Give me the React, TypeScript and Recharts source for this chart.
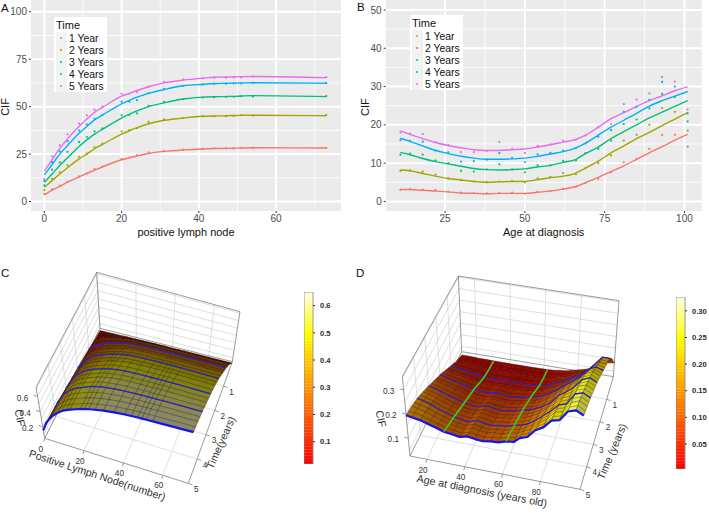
import { CartesianGrid, ComposedChart, Line, ReferenceArea, Scatter, XAxis, YAxis } from "recharts";

const FONT = "'Liberation Sans', Arial, sans-serif";
const yearNames = ["1 Year", "2 Years", "3 Years", "4 Years", "5 Years"];
const yearColors = ["#F8766D", "#A3A500", "#00BF7D", "#00B0F6", "#E76BF3"];

// Panel A, CIF (%) against positive lymph nodes
const nodes = [0, 2, 4, 6, 9, 11, 13, 15, 20, 22, 24, 27, 31, 36, 41, 44, 47, 49, 51, 54, 73];
const nodeLine1 = [3.5, 6, 8, 10.2, 13, 14.8, 16.5, 18.2, 22, 23, 24, 25.3, 26.4, 27.2, 27.7, 27.9, 28, 28.1, 28.2, 28.3, 28.2];
const nodeLine2 = [7.5, 11, 14.5, 17.8, 22.5, 25, 27.8, 30, 35.5, 37.3, 38.9, 41, 42.8, 44, 44.9, 45.1, 45.2, 45.3, 45.4, 45.5, 45.2];
const nodeLine3 = [10, 14.5, 19, 23, 29, 32.5, 35.5, 38, 44, 46, 47.8, 50, 52, 54, 55, 55.2, 55.3, 55.4, 55.6, 55.8, 55.3];
const nodeLine4 = [14, 19.5, 25, 29.5, 36, 39.5, 43, 45.5, 51.5, 53.3, 55, 57, 59, 61, 61.8, 62.2, 62.3, 62.4, 62.5, 62.6, 62.3];
const nodeLine5 = [16, 22, 28, 33, 39.5, 43.5, 47, 49.5, 55.5, 57, 58.5, 60.5, 62.5, 64, 65, 65.5, 65.6, 65.7, 65.8, 65.9, 65.3];
const nodePoints1 = [4, 6.4, 8.4, 10.4, 13.2, 14.7, 17.2, 18.4, 22.3, 23.2, 24.5, 25.9, 26.6, 27.3, 27.7, 28, 28, 28, 28.3, 28.4, 28.3];
const nodePoints2 = [6, 12, 15.4, 19, 23.6, 25.2, 28.6, 30.5, 37, 37.6, 38.6, 42, 43.3, 44, 45, 45, 45, 45.2, 45.5, 45.3, 45.6];
const nodePoints3 = [8.5, 16.8, 20.6, 26.2, 31.4, 34, 37, 38.6, 45.4, 45.6, 46.5, 50.4, 52.5, 54, 54.8, 55, 55.2, 55.2, 55.5, 55.4, 55.6];
const nodePoints4 = [11, 20.8, 26.4, 31.8, 37.4, 40.6, 43.6, 45.6, 52.6, 52.6, 53.4, 57.2, 59.4, 61, 61.6, 62, 62, 62.2, 62.2, 62.6, 62.4];
const nodePoints5 = [12, 23.8, 29.6, 35.4, 41, 45.4, 48.4, 50, 56.8, 56.8, 57.6, 60.6, 63, 64.4, 65, 65.2, 65.2, 65.4, 65.4, 65.8, 65.6];

// Panel B, CIF (%) against age at diagnosis
const ages = [11, 14, 18, 22, 26, 30, 34, 38, 42, 46, 50, 54, 58, 62, 66, 69, 73, 77, 81, 85, 89, 93, 97, 101];
const ageLine1 = [3.1, 3.1, 2.9, 2.7, 2.5, 2.2, 2.1, 2, 2.1, 2.1, 2.1, 2.4, 2.7, 3.2, 3.9, 4.9, 6.3, 7.8, 9.3, 11, 12.7, 14.3, 16, 17.5];
const ageLine2 = [8.2, 8, 7.3, 6.6, 6, 5.6, 5.2, 5, 5.1, 5.2, 5.2, 5.7, 6.2, 6.6, 7.4, 8.7, 10.5, 12.7, 14.5, 16.4, 18, 19.8, 21.5, 23.2];
const ageLine3 = [12.8, 12.2, 11.2, 10.4, 9.8, 9.2, 8.6, 8.3, 8.2, 8.3, 8.5, 9, 9.4, 10.2, 11, 12.5, 14.2, 16.4, 18.2, 20, 21.8, 23.3, 24.8, 26.3];
const ageLine4 = [16.5, 15.7, 14.5, 13.3, 12.5, 11.8, 11.3, 11, 11, 11.1, 11.3, 11.8, 12.4, 13, 14, 15.2, 17.3, 19.4, 21.2, 23, 24.9, 26.3, 27.5, 28.7];
const ageLine5 = [18.4, 17.5, 16.4, 15.4, 14.6, 14, 13.5, 13.3, 13.3, 13.5, 13.7, 14.2, 14.8, 15.5, 16.2, 17.3, 19.4, 21.6, 23.2, 24.8, 26.3, 27.6, 28.9, 29.9];
const agePoints1 = [3, 3.2, 3.1, 3, 2.5, 2.3, 2.2, 2.1, 2.2, 2.3, 2, 2.5, 2.7, 3.3, 3.8, 4.8, 5.9, 7.6, 10.2, 11.1, 13.7, 17.3, 17.4, 14.3];
const agePoints2 = [8, 8.1, 7.8, 7, 6, 5.5, 5.2, 5, 5.2, 5.3, 5, 6, 6.4, 7.4, 7.1, 8.7, 10, 12, 15.9, 17.4, 20, 24.4, 23.4, 18.5];
const agePoints3 = [12.2, 12.5, 12.2, 10.7, 10, 8, 7.8, 8.4, 9.7, 8.4, 7.6, 9.4, 9.4, 10.6, 10.7, 12.6, 13.7, 15.9, 20.2, 21.4, 24.3, 28.1, 27.3, 20.9];
const agePoints4 = [16, 15.8, 15.6, 13.3, 12.8, 10.4, 10.5, 10.9, 12.6, 11.4, 10.3, 12.3, 12.7, 13.3, 13.9, 15.1, 16.9, 18.6, 23.4, 24.7, 26.5, 31.2, 30, 23];
const agePoints5 = [18, 17.7, 17.6, 15.5, 14.7, 12.9, 12.9, 13.2, 15.5, 13.7, 12.6, 14.5, 14.9, 15.9, 16.1, 17.2, 19.4, 20.2, 25.4, 26.6, 28.2, 32.5, 31.3, 24];

// Panels C and D, surface rows (%), one per time below
const surfaceTimes = [0, 0.5, 1, 1.5, 2, 2.5, 3, 3.5, 4, 4.5, 5];
const nodeRows = [
  [2, 2, 2, 2.1, 2.2, 2.3, 2.4, 2.5, 2.6, 2.6, 2.7, 2.7, 2.8, 2.8, 2.8, 2.8, 2.8, 2.8, 2.8, 2.8, 2.8],
  [3.5, 6, 7.5, 9, 11, 12, 13, 14, 15.5, 16, 16.3, 16.6, 16.8, 17, 17, 17, 17, 17, 17, 17, 17],
  [6, 10, 13, 15.5, 18.5, 20, 21.5, 23, 25.5, 26, 26.5, 27, 27.5, 28, 28, 28.2, 28.3, 28.3, 28.4, 28.4, 28.2],
  [8, 13, 17, 20, 24, 26, 28, 29.5, 33, 34, 34.8, 35.8, 36.5, 37, 37.2, 37.3, 37.3, 37.4, 37.4, 37.4, 37],
  [9.5, 15.5, 20.5, 25, 30, 32.5, 34.5, 36.5, 40.5, 41.5, 42.5, 43.8, 44.8, 45.2, 45.5, 45.6, 45.7, 45.7, 45.8, 45.8, 45.3],
  [11, 18, 24, 29, 34.5, 37.5, 40, 42, 46, 47.5, 48.5, 50, 51, 51.5, 51.8, 52, 52, 52, 52.1, 52.1, 51.3],
  [12, 20, 27, 32.5, 38.5, 42, 44.5, 46.5, 51, 52.3, 53.3, 54.5, 55.5, 56, 56.2, 56.3, 56.3, 56.3, 56.3, 56.3, 55.5],
  [13, 22, 29.5, 35.5, 42, 45.5, 48, 50, 54.8, 56, 57, 58.3, 59.4, 60, 60, 60, 60, 60, 60, 60, 59],
  [14, 24, 31.5, 38, 44.5, 48, 50.5, 52.5, 57.5, 58.7, 60, 61, 62, 62.8, 63, 63, 63, 63, 63, 63, 62.2],
  [14.5, 25, 32.5, 38.7, 45, 48.5, 51, 53, 57.5, 58.8, 60, 61.5, 63, 64.3, 64.8, 65, 65, 65, 65, 65, 64.2],
  [15, 26, 33, 39, 45.5, 49, 51.5, 53.5, 58, 59.2, 60.5, 62, 63.7, 65, 65.7, 65.9, 66, 66, 66, 66, 65.5],
];
const ageRows = [
  [1.2, 1.2, 1.1, 1, 1, 0.9, 0.9, 0.9, 0.9, 0.9, 0.9, 0.9, 1, 1, 1.2, 1.5, 1.8, 2.5, 3.2, 4, 5, 7, 8, 8.5],
  [3, 2.8, 2.5, 2.3, 2, 1.8, 1.8, 1.7, 1.8, 1.8, 1.7, 1.8, 1.9, 2, 2.3, 3, 3.6, 4.6, 6, 7, 8.5, 11.5, 15, 15],
  [5.5, 5, 4.5, 4, 3.5, 3, 3, 3, 3.2, 3, 3, 3, 3.2, 3.5, 4, 5, 6, 7.5, 9.5, 11, 13, 16.5, 20, 20],
  [8, 7.6, 6.8, 6.2, 5.6, 5, 4.8, 4.7, 5, 4.8, 4.7, 5, 5.2, 5.8, 6.2, 7.2, 8.5, 10.2, 12.5, 14.2, 16.5, 20, 22.5, 22],
  [10.5, 10, 9, 8.5, 7.5, 7, 6.5, 6.3, 7, 6.5, 6.3, 6.8, 7, 8, 8.5, 9.5, 11, 13, 15.5, 17.5, 20, 23.5, 25, 24],
  [12.5, 12, 11, 10.2, 9.3, 8.5, 8, 7.9, 8.8, 8.3, 8, 8.4, 8.7, 9.8, 10.2, 11.2, 12.8, 14.8, 17.8, 19.8, 22.3, 26, 27.5, 26],
  [14.5, 14, 13, 12, 11, 10, 9.5, 9.5, 10.5, 10, 9.5, 10, 10.3, 11.5, 12, 13, 14.5, 16.5, 20, 22, 24.5, 28, 29.5, 28],
  [16.4, 15.8, 14.8, 13.5, 12.5, 11.5, 11, 10.8, 11.9, 11.3, 10.9, 11.4, 11.7, 12.8, 13.3, 14.3, 16, 18.5, 21, 24, 25.3, 29.8, 30.8, 29.3],
  [18, 17.5, 16.5, 15, 14, 13, 12.3, 12, 13.2, 12.5, 12.2, 12.8, 13, 14, 14.6, 15.6, 17.5, 20, 22.5, 25.5, 26.5, 31, 32, 30.5],
  [19, 18.4, 17.6, 16.4, 15.3, 14.3, 13.8, 13.4, 14.4, 13.8, 13.5, 14, 14.2, 15.2, 15.6, 17, 18.4, 21.4, 23.6, 26.8, 27.5, 31.8, 33, 31.3],
  [19.5, 19, 18.5, 17.5, 16.5, 15.5, 15, 14.5, 15.3, 14.8, 14.5, 15, 15.2, 16.2, 16.5, 18.5, 19.5, 22.8, 24.5, 27.8, 28.5, 32.5, 33.5, 32],
];

const zip = (xs: number[], ys: number[]) => xs.map((x, i) => ({ x, y: ys[i] }));
const dotShape = (color: string) => (p: any) => <circle cx={p.cx} cy={p.cy} r={1.1} fill={color} />;

function CurvePanel(props: any) {
  const { left, width, plotLeft, plotRight, xs, lines, points, xDomain, yDomain, xTicks, xMinor, yTicks, yMinor, xTitle, cifX } = props;
  return (
    <div style={{ position: "absolute", left, top: 0 }}>
      <ComposedChart width={width} height={240} margin={{ top: 0, right: plotRight, left: 0, bottom: 0 }}>
        <CartesianGrid fill="#EBEBEB" stroke="#FFFFFF" strokeWidth={0.8} horizontalValues={yMinor} verticalValues={xMinor} />
        <CartesianGrid fill="none" stroke="#FFFFFF" strokeWidth={2} horizontalValues={yTicks} verticalValues={xTicks} />
        <XAxis
          type="number"
          dataKey="x"
          domain={xDomain}
          ticks={xTicks}
          allowDataOverflow
          height={29}
          interval={0}
          tickSize={2}
          axisLine={false}
          tick={{ fill: "#4D4D4D", fontSize: 10, fontFamily: FONT }}
          tickLine={{ stroke: "#333333" }}
          label={{ value: xTitle, position: "insideBottom", offset: 4, fill: "#111", fontSize: 11, fontFamily: FONT }}
        />
        <YAxis
          type="number"
          dataKey="y"
          domain={yDomain}
          ticks={yTicks}
          allowDataOverflow
          width={plotLeft}
          interval={0}
          tickSize={2}
          axisLine={false}
          tick={{ fill: "#4D4D4D", fontSize: 10, fontFamily: FONT }}
          tickLine={{ stroke: "#333333" }}
          label={{
            content: () => (
              <text x={cifX} y={107} textAnchor="middle" dominantBaseline="middle" fontFamily={FONT} fontSize={11} fill="#111" transform={`rotate(-90 ${cifX} 107)`}>
                CIF
              </text>
            ),
          }}
        />
        {lines.map((ys: number[], i: number) => (
          <Line key={i} data={zip(xs, ys)} dataKey="y" type="monotone" stroke={yearColors[i]} strokeWidth={1.4} dot={false} isAnimationActive={false} />
        ))}
        {points.map((ys: number[], i: number) => (
          <Scatter key={i} data={zip(xs, ys)} dataKey="y" shape={dotShape(yearColors[i])} isAnimationActive={false} />
        ))}
      </ComposedChart>
    </div>
  );
}

function TimeLegend({ left, top }: { left: number; top: number }) {
  return (
    <div style={{ position: "absolute", left, top, width: 53, height: 75, background: "#fff", fontFamily: FONT, color: "#111" }}>
      <div style={{ fontSize: 11, lineHeight: "13px", margin: "2px 0 0 2px" }}>Time</div>
      {yearNames.map((name, i) => (
        <div key={name} style={{ display: "flex", alignItems: "center", height: 12, fontSize: 10.4, marginLeft: 2 }}>
          <span style={{ width: 11, height: 12, background: "#F2F2F2", position: "relative", flex: "none" }}>
            <span style={{ position: "absolute", left: 4, top: 5, width: 2.4, height: 2.4, borderRadius: 2, background: yearColors[i] }} />
          </span>
          <span style={{ marginLeft: 2, whiteSpace: "nowrap" }}>{name}</span>
        </div>
      ))}
    </div>
  );
}

const lerp = (a: number[], b: number[], f: number) => [a[0] + (b[0] - a[0]) * f, a[1] + (b[1] - a[1]) * f];

// heat.colors style ramp, darkened by the surface lighting
function heat(f: number, shade: number) {
  const g = Math.min(1, Math.max(0, f / 0.75)) * 255;
  const b = Math.min(1, Math.max(0, (f - 0.75) / 0.25)) * 235;
  return `rgb(${Math.round(255 * shade)},${Math.round(g * shade)},${Math.round(b * shade)})`;
}

function SurfacePanel(props: any) {
  const { left, top, width, height, box, xs, rows, xRange, zRange, colorRange, colorScale, xTicks, tTicks, zTicks, zGrid, green, titles, lightBase, lightGain } = props;
  const project = (x: number, t: number, z: number) => {
    const a = (x - xRange[0]) / (xRange[1] - xRange[0]);
    const b = t / 5;
    const c = (z - zRange[0]) / (zRange[1] - zRange[0]);
    const floor = lerp(lerp(box.bl, box.br, a), lerp(box.fl, box.fr, a), b);
    const roof = lerp(lerp(box.tbl, box.tbr, a), lerp(box.tfl, box.tfr, a), b);
    return lerp(floor, roof, c);
  };
  const x0 = xRange[0];
  const x1 = xRange[1];
  const z0 = zRange[0];
  const z1 = zRange[1];

  const wall: { pts: number[][] }[] = [];
  xTicks.forEach((x: number) => {
    wall.push({ pts: [project(x, 5, z0), project(x, 0, z0), project(x, 0, z1)] });
  });
  tTicks.forEach((t: number) => {
    wall.push({ pts: [project(x1, t, z0), project(x0, t, z0), project(x0, t, z1)] });
  });
  zGrid.forEach((z: number) => {
    wall.push({ pts: [project(x0, 5, z), project(x0, 0, z), project(x1, 0, z)] });
  });
  const frame = [
    [project(x0, 5, z0), project(x1, 5, z0), project(x1, 0, z0), project(x0, 0, z0), project(x0, 5, z0)],
    [project(x0, 5, z0), project(x0, 5, z1), project(x0, 0, z1), project(x1, 0, z1), project(x1, 0, z0)],
    [project(x0, 0, z0), project(x0, 0, z1)],
  ];
  xTicks.forEach((x: number) => {
    const p = project(x, 5, z0);
    frame.push([p, [p[0] - 1, p[1] + 3.5]]);
  });
  tTicks.concat([5]).forEach((t: number) => {
    const p = project(x1, t, z0);
    frame.push([p, [p[0] + 4, p[1] + 1.5]]);
  });
  zTicks.forEach((z: number) => {
    const p = project(x0, 5, z);
    frame.push([p, [p[0] - 4, p[1] - 1]]);
  });

  const toPath = (pts: number[][]) =>
    pts.map((p, i) => `${i ? "L" : "M"}${(p[0] - pts[0][0]).toFixed(2)} ${(p[1] - pts[0][1]).toFixed(2)}`).join("");

  const marks: any[] = [];
  for (let i = 0; i < rows.length - 1; i++) {
    for (let j = 0; j < xs.length - 1; j++) {
      const z00 = rows[i][j] / 100;
      const z01 = rows[i][j + 1] / 100;
      const z10 = rows[i + 1][j] / 100;
      const z11 = rows[i + 1][j + 1] / 100;
      const t0 = surfaceTimes[i];
      const t1 = surfaceTimes[i + 1];
      const p00 = project(xs[j], t0, z00);
      const p01 = project(xs[j + 1], t0, z01);
      const p11 = project(xs[j + 1], t1, z11);
      const p10 = project(xs[j], t1, z10);
      const mean = ((z00 + z01 + z10 + z11) / 4) * colorScale;
      const f = (mean - colorRange[0]) / (colorRange[1] - colorRange[0]);
      const slope = ((z01 + z11 - z00 - z10) / 2) / ((xs[j + 1] - xs[j]) / (x1 - x0)) / (z1 - z0);
      const shade = Math.min(1, Math.max(0.3, lightBase * (0.75 + 0.5 * f) + lightGain * slope));
      marks.push({
        u: p00[0],
        v: p00[1],
        fill: heat(f, shade),
        stroke: "rgba(25,10,0,0.7)",
        strokeWidth: 0.45,
        d: toPath([p00, p01, p11, p10]) + "Z",
        mid: `M${(p10[0] - p00[0]) / 2} ${(p10[1] - p00[1]) / 2}L${(p01[0] + p11[0]) / 2 - p00[0]} ${(p01[1] + p11[1]) / 2 - p00[1]}`,
      });
    }
  }
  rows.forEach((row: number[], i: number) => {
    if (surfaceTimes[i] % 1 !== 0 || surfaceTimes[i] === 0) return;
    const pts = xs.map((x: number, j: number) => project(x, surfaceTimes[i], row[j] / 100));
    marks.push({ u: pts[0][0], v: pts[0][1], fill: "none", stroke: surfaceTimes[i] === 5 ? "#1414F0" : "#2A25B8", strokeWidth: surfaceTimes[i] === 5 ? 2.2 : 1.3, d: toPath(pts) });
  });
  (green || []).forEach((age: number) => {
    const j = xs.indexOf(age);
    const pts = rows.map((row: number[], i: number) => project(age, surfaceTimes[i], row[j] / 100));
    marks.push({ u: pts[0][0], v: pts[0][1], fill: "none", stroke: "#3FCB2A", strokeWidth: 1.6, d: toPath(pts) });
  });

  const labels: any[] = [];
  xTicks.forEach((x: number) => {
    const p = project(x, 5, z0);
    labels.push({ u: p[0] - 4, v: p[1] + 11, text: String(x), size: 8.2, angle: 0 });
  });
  tTicks.concat([5]).filter((t: number) => t > 0).forEach((t: number) => {
    const p = project(x1, t, z0);
    labels.push({ u: p[0] + 8, v: p[1] + 6.5, text: String(t), size: 8.2, angle: 0 });
  });
  zTicks.forEach((z: number) => {
    const p = project(x0, 5, z);
    labels.push({ u: p[0] - 15, v: p[1] + 2, text: z.toFixed(1), size: 8.2, angle: 0 });
  });
  titles.forEach((t: any) => labels.push(t));

  return (
    <div style={{ position: "absolute", left, top }}>
      <ComposedChart width={width} height={height} margin={{ top: 0, right: 0, left: 0, bottom: 0 }}>
        <XAxis hide type="number" dataKey="u" domain={[0, width]} allowDataOverflow />
        <YAxis hide type="number" dataKey="v" domain={[0, height]} reversed allowDataOverflow />
        {wall.map((w, i) => (
          <Line key={`w${i}`} data={w.pts.map((p) => ({ u: p[0], v: p[1] }))} dataKey="v" stroke="#D6D6D6" strokeWidth={0.8} dot={false} isAnimationActive={false} />
        ))}
        {frame.map((w, i) => (
          <Line key={`f${i}`} data={w.map((p) => ({ u: p[0], v: p[1] }))} dataKey="v" stroke="#808080" strokeWidth={0.8} dot={false} isAnimationActive={false} />
        ))}
        <Scatter
          data={marks}
          dataKey="v"
          isAnimationActive={false}
          shape={(p: any) => (
            <g transform={`translate(${p.cx},${p.cy})`}>
              <path d={p.payload.d} fill={p.payload.fill} stroke={p.payload.stroke} strokeWidth={p.payload.strokeWidth} strokeLinejoin="round" />
              {p.payload.mid ? <path d={p.payload.mid} fill="none" stroke={p.payload.stroke} strokeWidth={p.payload.strokeWidth} /> : null}
            </g>
          )}
        />
        <Scatter
          data={labels}
          dataKey="v"
          isAnimationActive={false}
          shape={(p: any) => (
            <text
              x={p.cx}
              y={p.cy}
              textAnchor="middle"
              dominantBaseline="middle"
              fontFamily={FONT}
              fontSize={p.payload.size}
              fill="#333"
              transform={`rotate(${p.payload.angle} ${p.cx} ${p.cy})`}
            >
              {p.payload.text}
            </text>
          )}
        />
      </ComposedChart>
    </div>
  );
}

function ColorBar({ left, top, height, domain, ticks, digits }: any) {
  const n = 60;
  const step = (domain[1] - domain[0]) / n;
  const levels = Array.from({ length: n }, (_, i) => domain[0] + i * step);
  return (
    <div style={{ position: "absolute", left, top }}>
      <ComposedChart width={42} height={height} data={[{ x: 0 }, { x: 1 }]} margin={{ top: 0, right: 0, left: 0, bottom: 0 }}>
        <XAxis hide type="number" dataKey="x" domain={[0, 1]} />
        <YAxis
          orientation="right"
          type="number"
          domain={domain}
          ticks={ticks}
          allowDataOverflow
          interval={0}
          width={33}
          tickSize={2}
          tickMargin={5}
          axisLine={false}
          tickLine={{ stroke: "#333" }}
          tickFormatter={(v: number) => v.toFixed(digits)}
          tick={{ fill: "#2A2A3A", fontSize: 7.6, fontWeight: 700, fontFamily: FONT }}
        />
        {levels.map((lo) => (
          <ReferenceArea key={lo} y1={lo} y2={lo + step * 1.05} fill={heat((lo - domain[0]) / (domain[1] - domain[0]), 1)} fillOpacity={1} stroke="none" ifOverflow="hidden" />
        ))}
        <ReferenceArea y1={domain[0]} y2={domain[1]} fill="none" stroke="#808080" strokeWidth={0.8} />
      </ComposedChart>
    </div>
  );
}

const z3 = (x: number, y: number) => [x / 3, y / 3];
const boxC = {
  fl: z3(134, 565), fr: z3(565, 700), bl: z3(300, 235), br: z3(697, 335),
  tfl: z3(108, 412), tfr: z3(582, 530), tbl: z3(290, 67), tbr: z3(720, 185),
};
const boxD = {
  fl: z3(180, 618), fr: z3(690, 718), bl: z3(335, 305), br: z3(790, 380),
  tfl: z3(157, 380), tfr: z3(703, 470), tbl: z3(325, 78), tbr: z3(807, 152),
};
const titlesC = [
  { u: 97, v: 226, text: "Positive Lymph Node(number)", size: 10.6, angle: 18 },
  { u: 221.7, v: 193, text: "Time(years)", size: 10.6, angle: -66 },
  { u: 19, v: 168, text: "CIF", size: 10.6, angle: 78 },
];
const titlesD = [
  { u: 131.7, v: 241.7, text: "Age at diagnosis (years old)", size: 10.7, angle: 11 },
  { u: 262.7, v: 201.7, text: "Time (years)", size: 10.7, angle: -67 },
  { u: 30, v: 169, text: "CIF", size: 10.7, angle: 78 },
];

const panelLetter = (text: string, left: number, top: number) => (
  <div key={text} style={{ position: "absolute", left, top, fontFamily: FONT, fontSize: 11.5, lineHeight: "12px", color: "#111" }}>{text}</div>
);

export default function App() {
  return (
    <div style={{ position: "absolute", left: 0, top: 0, width: 709, height: 513, overflow: "hidden", background: "#fff" }}>
      <CurvePanel
        left={0}
        width={350}
        plotLeft={31}
        plotRight={9}
        cifX={6}
        xs={nodes}
        lines={[nodeLine1, nodeLine2, nodeLine3, nodeLine4, nodeLine5]}
        points={[nodePoints1, nodePoints2, nodePoints3, nodePoints4, nodePoints5]}
        xDomain={[-3.45, 76.8]}
        yDomain={[-5, 106.2]}
        xTicks={[0, 20, 40, 60]}
        xMinor={[10, 30, 50, 70]}
        yTicks={[0, 25, 50, 75, 100]}
        yMinor={[12.5, 37.5, 62.5, 87.5]}
        xTitle="positive lymph node"
      />
      <TimeLegend left={54} top={17} />
      <CurvePanel
        left={350}
        width={359}
        plotLeft={35.7}
        plotRight={7.3}
        cifX={16.5}
        xs={ages}
        lines={[ageLine1, ageLine2, ageLine3, ageLine4, ageLine5]}
        points={[agePoints1, agePoints2, agePoints3, agePoints4, agePoints5]}
        xDomain={[6.4, 105.4]}
        yDomain={[-2.5, 52.6]}
        xTicks={[25, 50, 75, 100]}
        xMinor={[37.5, 62.5, 87.5]}
        yTicks={[0, 10, 20, 30, 40, 50]}
        yMinor={[5, 15, 25, 35, 45]}
        xTitle="Age at diagnosis"
      />
      <TimeLegend left={410} top={15} />
      <SurfacePanel
        left={0}
        top={250}
        width={300}
        height={263}
        box={boxC}
        xs={nodes}
        rows={nodeRows}
        xRange={[0, 73]}
        zRange={[0.045, 0.72]}
        colorRange={[0.018, 0.65]}
        colorScale={0.95}
        xTicks={[0, 20, 40, 60]}
        tTicks={[1, 2, 3, 4]}
        zTicks={[0.2, 0.4, 0.6]}
        zGrid={[0.1, 0.2, 0.3, 0.4, 0.5, 0.6, 0.7]}
        titles={titlesC}
        lightBase={0.44}
        lightGain={0.05}
      />
      <ColorBar left={304} top={292} height={172} domain={[0.018, 0.65]} ticks={[0.1, 0.2, 0.3, 0.4, 0.5, 0.6]} digits={1} />
      <SurfacePanel
        left={350}
        top={250}
        width={300}
        height={263}
        box={boxD}
        xs={ages}
        rows={ageRows}
        xRange={[11, 101]}
        zRange={[0.026, 0.355]}
        colorRange={[0.003, 0.326]}
        colorScale={0.85}
        xTicks={[20, 40, 60, 80]}
        tTicks={[1, 2, 3, 4]}
        zTicks={[0.1, 0.2, 0.3]}
        zGrid={[0.05, 0.1, 0.15, 0.2, 0.25, 0.3, 0.35]}
        green={[30, 62]}
        titles={titlesD}
        lightBase={0.72}
        lightGain={0.1}
      />
      <ColorBar left={676} top={297} height={172} domain={[0.003, 0.326]} ticks={[0.05, 0.1, 0.15, 0.2, 0.25, 0.3]} digits={2} />
      {panelLetter("A", 1, 2)}
      {panelLetter("B", 357, 1)}
      {panelLetter("C", 1, 267)}
      {panelLetter("D", 356, 267)}
    </div>
  );
}
